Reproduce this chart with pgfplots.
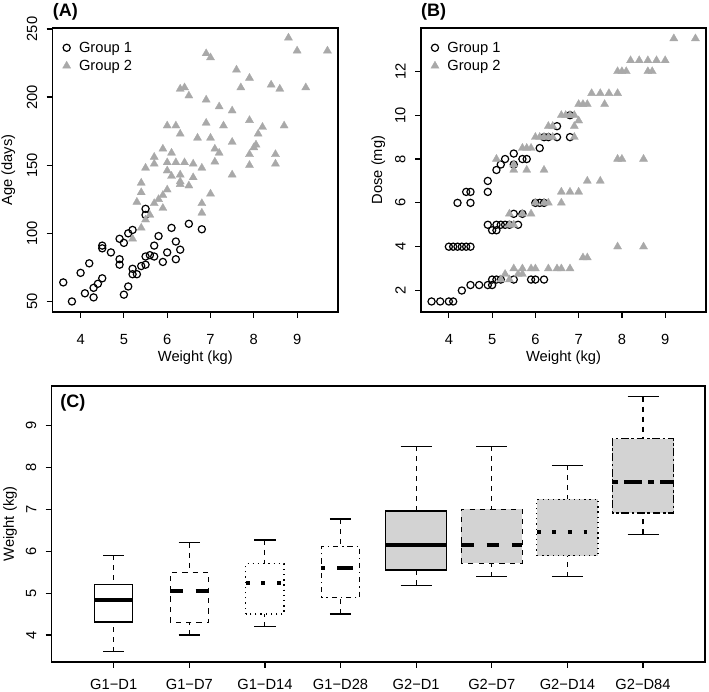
\documentclass[border=0pt]{standalone}
\usepackage{fontspec}
\setmainfont{Liberation Sans}
\usepackage{pgfplots}
\usepackage{pgfplotstable}
\pgfplotsset{compat=1.18}
\usepgfplotslibrary{statistics}
\definecolor{tri}{RGB}{169,169,169}
\definecolor{boxfill}{RGB}{211,211,211}
\newcommand{\fs}{\fontsize{14.7}{17}\selectfont}

\pgfplotstableread{
w a
3.6 64
3.8 50
4.0 71
4.2 78
4.1 56
4.3 60
4.3 53
4.4 63
4.5 67
4.5 91
4.5 89
4.7 86
4.9 96
5.0 93
4.9 81
4.9 77
5.1 100
5.2 102.5
5.0 55
5.1 61
5.2 74
5.2 70
5.3 70
5.4 76
5.5 77
5.5 83
5.6 84
5.7 83
5.7 91
5.8 98
5.9 79
6.0 86
6.1 104
6.2 94
6.3 88
6.2 81
6.5 107
6.8 103
5.5 118
5.5 113.5
}\grpAone

\pgfplotstableread{
w a
8.8 243.5
9.0 234
9.7 234
6.9 232
7.0 229
7.6 220
7.9 214
7.7 207
8.4 209
8.6 206
9.2 207
6.3 206
6.4 207
6.5 201
6.9 198
7.2 193
7.5 190
6.0 179
6.2 179
6.3 173
6.9 181
7.3 179
7.9 183
8.2 178
8.1 173
8.7 179
6.7 170
7.0 170
7.5 167
8.05 165
8.0 163
5.9 162
7.1 162
7.2 159
6.1 159
5.7 156
7.9 158
8.5 158
7.9 150
8.5 151
7.1 152.5
7.5 143
5.5 148
5.7 151
6.0 152
6.0 146
6.2 152
6.4 152
6.6 151
6.8 148
6.1 142
6.3 143
6.3 138
6.3 136
6.5 135
6.6 141
5.4 137
5.4 130
6.0 132
5.9 128
5.8 125
5.7 122
5.9 118.5
5.3 123
7.0 129
6.8 122
6.8 115
5.5 110
5.6 113.5
5.4 104
5.2 96
}\grpAtwo

\pgfplotstableread{
w d
3.6 1.5
3.8 1.5
4.0 1.5
4.1 1.5
4.3 2.0
4.5 2.25
4.7 2.25
4.9 2.25
5.0 2.25
5.0 2.5
5.1 2.5
5.2 2.5
5.5 2.5
5.9 2.5
6.0 2.5
6.2 2.5
4.0 4
4.1 4
4.2 4
4.3 4
4.4 4
4.5 4
5.0 4.75
5.1 4.75
4.9 5
5.1 5
5.2 5
5.3 5
5.4 5
5.6 5
5.5 5.5
5.7 5.5
4.2 6
4.5 6
6.0 6
6.1 6
6.2 6
4.4 6.5
4.5 6.5
4.9 6.5
4.9 7
5.1 7.5
5.2 7.75
5.5 7.75
5.3 8
5.7 8
5.8 8
5.5 8.25
6.1 8.5
6.2 9
6.3 9
6.5 9
6.8 9
6.5 9.5
6.8 10
}\grpBone

\pgfplotstableread{
w d
9.2 13.5
9.7 13.5
8.2 12.5
8.4 12.5
8.6 12.5
8.8 12.5
9.0 12.5
7.9 12
8.0 12
8.1 12
8.6 12
8.7 12
7.3 11
7.5 11
7.7 11
7.9 11
7.0 10.5
7.1 10.5
7.2 10.5
7.6 10.5
6.6 10
6.7 10
6.8 10
6.9 10
7.0 9.75
6.3 9.5
6.4 9.5
6.9 9.5
6.0 9
6.1 9
6.2 9
6.3 9
6.4 9
6.9 9
5.7 8.5
5.8 8.5
5.9 8.5
5.1 8
7.9 8
8.0 8
8.5 8
5.5 7.75
5.5 7.5
5.8 7.5
6.2 7.5
7.2 7
7.5 7
6.6 6.5
6.8 6.5
7.0 6.5
6.0 6
6.2 6
6.3 6
6.6 6
5.4 5.5
5.7 5.5
5.9 5.5
5.4 5
5.5 5
7.9 4
8.5 4
7.1 3.5
7.2 3.5
5.5 3
5.7 3
5.9 3
6.0 3
6.3 3
6.5 3
6.6 3
6.8 3
5.6 2.75
5.7 2.75
5.3 2.75
5.2 2.5
5.4 2.5
}\grpBtwo

\tikzset{
  ltyA/.style={solid},
  ltyB/.style={dash pattern=on 5.2pt off 5.2pt},
  ltyC/.style={dash pattern=on 1.3pt off 3.9pt},
  ltyD/.style={dash pattern=on 1.3pt off 3.9pt on 5.2pt off 3.9pt},
  ltyF/.style={dash pattern=on 2.6pt off 2.6pt on 7.8pt off 2.6pt},
  medA/.style={solid},
  medB/.style={dash pattern=on 12.7pt off 12.7pt},
  medC/.style={dash pattern=on 3.9pt off 11.7pt},
  medD/.style={dash pattern=on 3.9pt off 11.7pt on 15.6pt off 11.7pt},
  medF/.style={dash pattern=on 6pt off 6pt on 18pt off 6pt},
  paneltitle/.style={anchor=base west, inner sep=0pt, yshift=11pt, font=\bfseries\fontsize{18}{20}\selectfont},
}

\pgfplotsset{
  rbase/.style={
    scale only axis,
    font=\fs,
    /pgf/number format/assume math mode=true,
    axis line style={line width=1.2pt},
    every tick/.style={line width=1.2pt, black},
    tick align=outside,
    major tick length=6pt,
    xtick pos=bottom, ytick pos=left,
    every axis y label/.style={at={(axis description cs:0,0.5)}, xshift=-40.5pt, rotate=90, anchor=base},
    every axis x label/.style={at={(axis description cs:0.5,0)}, yshift=-49.5pt, anchor=base},
  },
  scat/.style={
    rbase,
    clip=false,
    width=285.3pt, height=284pt,
    xmin=3.356, xmax=9.944,
    xtick={4,5,6,7,8,9},
    xlabel={Weight (kg)},
    legend style={at={(axis description cs:0,1)}, anchor=north west, draw=none, fill=none, font=\fs, inner sep=0pt, xshift=9.7pt, yshift=-11.7pt, row sep=2.3pt, nodes={inner sep=2pt},
      /tikz/every odd column/.append style={column sep=6.3pt}},
    legend cell align=left,
  },
  g1/.style={only marks, mark=o, mark size=3.6pt, mark options={line width=1.2pt, draw=black}, black},
  g2/.style={only marks, mark=triangle*, mark size=4.7pt, mark options={fill=tri, draw=tri, line width=0.3pt}, tri},
  rwhisk/.style={
    /pgfplots/boxplot/draw/lower whisker/.code={%
      \draw[line width=1.1pt, dash pattern=on 5pt off 5pt]
        (boxplot box cs:\pgfplotsboxplotvalue{lower whisker},0.5) -- (boxplot box cs:\pgfplotsboxplotvalue{lower quartile},0.5);
      \draw[line width=1.3pt, solid]
        (boxplot whisker cs:\pgfplotsboxplotvalue{lower whisker},0) -- (boxplot whisker cs:\pgfplotsboxplotvalue{lower whisker},1);
    },
    /pgfplots/boxplot/draw/upper whisker/.code={%
      \draw[line width=1.1pt, dash pattern=on 5pt off 5pt]
        (boxplot box cs:\pgfplotsboxplotvalue{upper whisker},0.5) -- (boxplot box cs:\pgfplotsboxplotvalue{upper quartile},0.5);
      \draw[line width=1.3pt, solid]
        (boxplot whisker cs:\pgfplotsboxplotvalue{upper whisker},0) -- (boxplot whisker cs:\pgfplotsboxplotvalue{upper whisker},1);
    },
  },
}

\begin{document}
\begin{tikzpicture}
\useasboundingbox (0,0) rectangle (709pt,692pt);

% Panel A
\begin{axis}[scat, at={(52.7pt,380pt)}, anchor=south west,
  ymin=42.28, ymax=250.72, ytick={50,100,150,200,250},
  xticklabel style={anchor=north, inner sep=0pt, outer sep=0pt, yshift=-16.5pt},
  yticklabel style={xshift=-9.4pt, rotate=90, anchor=south, inner sep=0pt, outer sep=0pt},
  ylabel={Age (days)}]
\addplot[g1] table[x=w,y=a] {\grpAone};
\addlegendentry{Group 1}
\addplot[g2] table[x=w,y=a] {\grpAtwo};
\addlegendentry{Group 2}
\node[paneltitle] at (rel axis cs:0,1) {(A)};
\end{axis}

% Panel B
\begin{axis}[scat, at={(421pt,380pt)}, anchor=south west, width=285pt,
  ymin=1.02, ymax=13.98, ytick={2,4,6,8,10,12},
  xticklabel style={anchor=north, inner sep=0pt, outer sep=0pt, yshift=-16.5pt},
  yticklabel style={xshift=-9.4pt, rotate=90, anchor=south, inner sep=0pt, outer sep=0pt},
  every axis y label/.style={at={(axis description cs:0,0.5)}, xshift=-38.8pt, rotate=90, anchor=base},
  ylabel={Dose (mg)}]
\addplot[g1] table[x=w,y=d] {\grpBone};
\addlegendentry{Group 1}
\addplot[g2] table[x=w,y=d] {\grpBtwo};
\addlegendentry{Group 2}
\node[paneltitle] at (rel axis cs:0,1) {(B)};
\end{axis}

% Panel C
\begin{axis}[rbase, at={(51.7pt,30pt)}, anchor=south west,
  width=653.3pt, height=276pt,
  boxplot/draw direction=y,
  xmin=0.18, xmax=8.82, ymin=3.356, ymax=9.944,
  xtick={1,2,3,4,5,6,7,8},
  xticklabels={G1−D1,G1−D7,G1−D14,G1−D28,G2−D1,G2−D7,G2−D14,G2−D84},
  xticklabel style={anchor=north, inner sep=0pt, outer sep=0pt, yshift=-11.6pt},
  yticklabel style={xshift=-9.4pt, rotate=90, anchor=south, inner sep=0pt, outer sep=0pt},
  ytick={4,5,6,7,8,9},
  every axis y label/.style={at={(axis description cs:0,0.5)}, xshift=-37.9pt, rotate=90, anchor=base},
  ylabel={Weight (kg)},
  title style={at={(axis description cs:0,1)}, anchor=north west, inner sep=0pt, xshift=8.5pt, yshift=-14pt, font=\bfseries\fontsize{18}{20}\selectfont},
  title={(C)}]
\addplot[black, rwhisk, boxplot prepared={draw position=1, lower whisker=3.60, lower quartile=4.31, median=4.84, upper quartile=5.21, upper whisker=5.90, box extend=0.506, whisker extend=0.28,
  every box/.style={draw=black, line width=1.3pt, ltyA}, every median/.style={line width=3.9pt, medA}}] coordinates {};
\addplot[black, rwhisk, boxplot prepared={draw position=2, lower whisker=4.00, lower quartile=4.30, median=5.04, upper quartile=5.50, upper whisker=6.20, box extend=0.506, whisker extend=0.28,
  every box/.style={draw=black, line width=1.3pt, ltyB}, every median/.style={line width=3.9pt, medB}}] coordinates {};
\addplot[black, rwhisk, boxplot prepared={draw position=3, lower whisker=4.20, lower quartile=4.50, median=5.25, upper quartile=5.70, upper whisker=6.27, box extend=0.506, whisker extend=0.28,
  every box/.style={draw=black, line width=1.3pt, ltyC}, every median/.style={line width=3.9pt, medC}}] coordinates {};
\addplot[black, rwhisk, boxplot prepared={draw position=4, lower whisker=4.50, lower quartile=4.90, median=5.60, upper quartile=6.11, upper whisker=6.77, box extend=0.506, whisker extend=0.28,
  every box/.style={draw=black, line width=1.3pt, ltyD}, every median/.style={line width=3.9pt, medD}}] coordinates {};
\addplot[black, rwhisk, boxplot prepared={draw position=5, lower whisker=5.19, lower quartile=5.55, median=6.14, upper quartile=6.96, upper whisker=8.50, box extend=0.81, whisker extend=0.41,
  every box/.style={draw=black, fill=boxfill, line width=1.3pt, ltyA}, every median/.style={line width=3.9pt, medA}}] coordinates {};
\addplot[black, rwhisk, boxplot prepared={draw position=6, lower whisker=5.39, lower quartile=5.71, median=6.14, upper quartile=7.00, upper whisker=8.50, box extend=0.81, whisker extend=0.41,
  every box/.style={draw=black, fill=boxfill, line width=1.3pt, ltyB}, every median/.style={line width=3.9pt, medB}}] coordinates {};
\addplot[black, rwhisk, boxplot prepared={draw position=7, lower whisker=5.39, lower quartile=5.89, median=6.46, upper quartile=7.24, upper whisker=8.05, box extend=0.81, whisker extend=0.41,
  every box/.style={draw=black, fill=boxfill, line width=1.3pt, ltyC}, every median/.style={line width=3.9pt, medC}}] coordinates {};
\addplot[black, rwhisk, boxplot prepared={draw position=8, lower whisker=6.40, lower quartile=6.91, median=7.65, upper quartile=8.69, upper whisker=9.69, box extend=0.81, whisker extend=0.41,
  every box/.style={draw=black, fill=boxfill, line width=1.3pt, ltyF}, every median/.style={line width=3.9pt, medF}}] coordinates {};
\end{axis}
\end{tikzpicture}
\end{document}
